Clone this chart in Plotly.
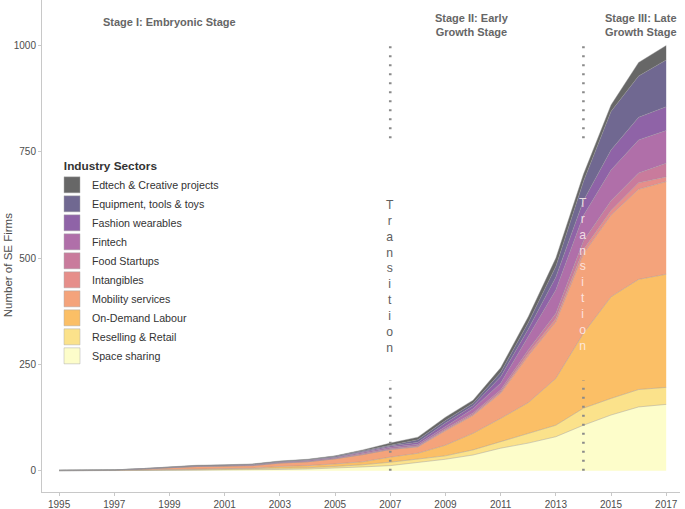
import plotly.graph_objects as go

years = list(range(1995, 2018))

# per-sector values (bottom to top of the stack)
space_sharing = [0, 0, 0, 0, 1, 1, 2, 2, 3, 4, 6, 9, 12, 19, 27, 37, 53, 65, 80, 107, 131, 150, 156]
reselling_retail = [0, 0, 0, 1, 1, 2, 1, 2, 3, 3, 4, 5, 8, 8, 8, 12, 15, 23, 27, 40, 39, 41, 40]
on_demand_labour = [0, 0, 1, 1, 1, 1, 2, 2, 4, 5, 6, 7, 12, 14, 25, 39, 55, 72, 110, 176, 239, 259, 266]
mobility_services = [1, 1, 1, 2, 4, 6, 6, 6, 8, 9, 12, 17, 18, 15, 34, 42, 59, 110, 133, 187, 192, 212, 218]
intangibles = [0, 0, 0, 0, 0, 0, 0, 0, 0, 0, 0, 0, 0, 1, 2, 2, 3, 6, 8, 10, 11, 15, 11]
food_startups = [0, 0, 0, 0, 0, 0, 0, 1, 1, 1, 1, 2, 2, 2, 3, 4, 5, 8, 12, 20, 23, 23, 32]
fintech = [0, 0, 0, 0, 1, 1, 1, 1, 1, 2, 2, 3, 3, 3, 6, 10, 16, 31, 55, 60, 72, 78, 77]
fashion_wearables = [0, 0, 0, 1, 0, 1, 1, 1, 1, 1, 1, 2, 3, 5, 7, 7, 15, 18, 30, 35, 47, 53, 56]
equipment_tools_toys = [0, 0, 0, 0, 1, 0, 0, 0, 1, 1, 2, 2, 3, 6, 6, 6, 10, 15, 25, 45, 91, 97, 110]
edtech_creative = [0, 0, 0, 0, 0, 1, 1, 1, 1, 1, 1, 2, 4, 6, 8, 7, 11, 14, 20, 17, 15, 32, 34]

sector_names = ["Space sharing", "Reselling & Retail", "On-Demand Labour", "Mobility services",
                "Intangibles", "Food Startups", "Fintech", "Fashion wearables",
                "Equipment, tools & toys", "Edtech & Creative projects"]
sector_values = [space_sharing, reselling_retail, on_demand_labour, mobility_services,
                 intangibles, food_startups, fintech, fashion_wearables,
                 equipment_tools_toys, edtech_creative]
sector_colors = ["#fdfdca", "#fbe28b", "#fbbf66", "#f4a37b", "#e68e8a",
                 "#c97b9c", "#b06fa9", "#8f63a7", "#706891", "#676767"]

x_ticks = list(range(1995, 2018, 2))
y_ticks = [0, 250, 500, 750, 1000]

FONT = "Liberation Sans, Arial, sans-serif"

fig = go.Figure()
for name, vals, col in zip(sector_names, sector_values, sector_colors):
    fig.add_trace(go.Scatter(
        x=years, y=vals, name=name, stackgroup="one", mode="lines",
        line=dict(color="rgba(150,150,150,0.7)", width=0.6),
        fillcolor=col, showlegend=False, legendgroup=name,
    ))
# legend swatches
for name, col in zip(sector_names, sector_colors):
    fig.add_trace(go.Scatter(
        x=[None], y=[None], mode="markers", name=name, legendgroup=name,
        marker=dict(symbol="square", size=16, color=col,
                    line=dict(color="rgba(170,170,170,0.8)", width=0.6)),
        showlegend=True,
    ))

dot = dict(color="#8a8a8a", width=2.6, dash="2px,7px")
for xv in (2007, 2014):
    fig.add_shape(type="line", x0=xv, x1=xv, y0=782, y1=1000, xref="x", yref="y", line=dot)
    fig.add_shape(type="line", x0=xv, x1=xv, y0=0, y1=213, xref="x", yref="y", line=dot)

trans = "<br>".join(list("Transition"))
fig.add_annotation(x=2007, y=647, xref="x", yref="y", text=trans, showarrow=False,
                   font=dict(size=12.2, color="#5e5e5e", family=FONT),
                   xanchor="center", yanchor="top", align="center")
fig.add_annotation(x=2014, y=650, xref="x", yref="y", text=trans, showarrow=False,
                   font=dict(size=12.2, color="rgba(255,240,240,0.85)", family=FONT),
                   xanchor="center", yanchor="top", align="center")

stage_font = dict(size=11, color="#666666", family=FONT)
fig.add_annotation(x=1999.0, y=1055, xref="x", yref="y", text="<b>Stage I: Embryonic Stage</b>",
                   showarrow=False, font=stage_font, xanchor="center", yanchor="middle")
fig.add_annotation(x=2009.96, y=1048, xref="x", yref="y", text="<b>Stage II: Early<br>Growth Stage</b>",
                   showarrow=False, font=stage_font, xanchor="center", yanchor="middle", align="center")
fig.add_annotation(x=2016.1, y=1048, xref="x", yref="y", text="<b>Stage III: Late<br>Growth Stage</b>",
                   showarrow=False, font=stage_font, xanchor="center", yanchor="middle", align="center")

fig.add_annotation(x=-0.054, y=0.46, xref="paper", yref="paper", text="Number of SE Firms",
                   textangle=-90, showarrow=False, xanchor="center", yanchor="middle",
                   font=dict(size=11.5, color="#4d4d4d", family=FONT))

fig.update_layout(
    width=685, height=509,
    margin=dict(l=42, r=5, t=0, b=17),
    paper_bgcolor="white", plot_bgcolor="white",
    font=dict(family=FONT, size=11, color="#4d4d4d"),
    showlegend=True,
    legend=dict(
        x=0.0157, y=0.685, xanchor="left", yanchor="top",
        traceorder="reversed",
        title=dict(text="&nbsp;&nbsp;&nbsp;<b>Industry Sectors</b>",
                   font=dict(size=11.8, color="#333333", family=FONT)),
        font=dict(size=10.7, color="#333333", family=FONT),
        bgcolor="rgba(0,0,0,0)",
        itemwidth=30,
        tracegroupgap=0,
    ),
    xaxis=dict(
        range=[1994.38, 2017.5], tickvals=x_ticks, ticktext=[str(v) for v in x_ticks],
        showgrid=False, zeroline=False, showline=True, linecolor="#c8c8c8", linewidth=1,
        ticks="outside", ticklen=3, tickcolor="#c8c8c8",
        tickfont=dict(size=10, color="#4d4d4d"),
    ),
    yaxis=dict(
        range=[-50, 1107], tickvals=y_ticks,
        showgrid=False, zeroline=False, showline=True, linecolor="#c8c8c8", linewidth=1,
        ticks="outside", ticklen=3, tickcolor="#c8c8c8",
        tickfont=dict(size=10, color="#4d4d4d"),
    ),
)

fig.write_html("out.html", config={"displayModeBar": False},
               post_script="document.body.style.margin='0';document.body.style.overflow='hidden';")
